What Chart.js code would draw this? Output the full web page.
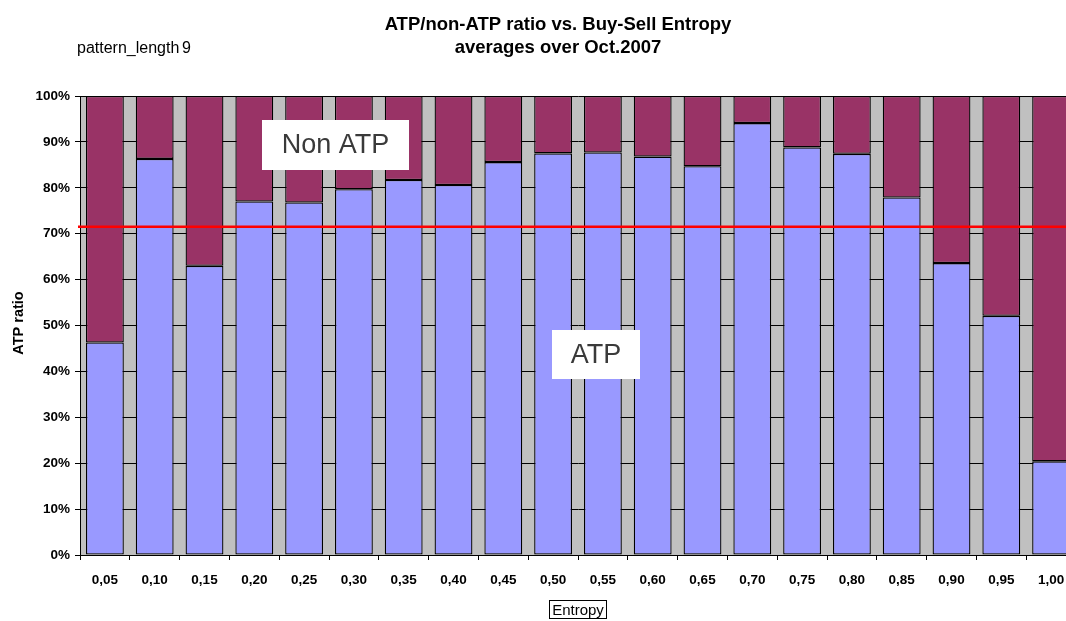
<!DOCTYPE html>
<html>
<head>
<meta charset="utf-8">
<script src="https://cdn.jsdelivr.net/npm/chart.js@4/dist/chart.umd.min.js"></script>
<style>
  html, body { margin: 0; padding: 0; background: #ffffff; overflow: hidden; }
  #wrap { width: 1100px; height: 621px; }
  canvas { display: block; }
</style>
</head>
<body>
<div id="wrap"><canvas id="c" width="1100" height="621"></canvas></div>
<script>
const categories = ['0,05','0,10','0,15','0,20','0,25','0,30','0,35','0,40','0,45','0,50',
                    '0,55','0,60','0,65','0,70','0,75','0,80','0,85','0,90','0,95','1,00'];
const atpPercent = [46.3, 86.3, 63.0, 77.0, 76.8, 79.7, 81.7, 80.6, 85.6, 87.5,
                    87.7, 86.8, 84.7, 94.1, 88.8, 87.4, 77.9, 63.6, 52.1, 20.4];
const nonAtpPercent = [53.7, 13.7, 37.0, 23.0, 23.2, 20.3, 18.3, 19.4, 14.4, 12.5,
                       12.3, 13.2, 15.3, 5.9, 11.2, 12.6, 22.1, 36.4, 47.9, 79.6];
const overallAtpAverage = 71.5;
const yTicks = [0, 10, 20, 30, 40, 50, 60, 70, 80, 90, 100];
const titleLines = ['ATP/non-ATP ratio vs. Buy-Sell Entropy', 'averages over Oct.2007'];
const subtitleText = ['pattern_length', '9'];
const yAxisTitle = 'ATP ratio';
const xAxisTitle = 'Entropy';
const seriesNames = ['ATP', 'Non ATP'];

const FONT = '"Liberation Sans", Arial, sans-serif';

const decorPlugin = {
  id: 'decor',
  beforeDraw(chart) {
    const { ctx, chartArea: a } = chart;
    ctx.save();
    ctx.fillStyle = '#C0C0C0';
    ctx.fillRect(a.left, a.top, a.right - a.left, a.bottom - a.top);
    ctx.restore();
  },
  afterDraw(chart) {
    const { ctx, chartArea: a } = chart;
    const y = chart.scales.y;
    ctx.save();
    // average line
    const py = y.getPixelForValue(overallAtpAverage);
    ctx.strokeStyle = '#FF0000';
    ctx.lineWidth = 2.4;
    ctx.beginPath();
    ctx.moveTo(a.left - 2, py);
    ctx.lineTo(a.right, py);
    ctx.stroke();

    // title
    ctx.fillStyle = '#000';
    ctx.textAlign = 'center';
    ctx.textBaseline = 'alphabetic';
    ctx.font = 'bold 18.5px ' + FONT;
    ctx.fillText(titleLines[0], 558, 29.5);
    ctx.fillText(titleLines[1], 558, 52.5);

    // subtitle
    ctx.textAlign = 'left';
    ctx.font = '16px ' + FONT;
    ctx.fillText(subtitleText[0], 77, 53);
    ctx.fillText(subtitleText[1], 182, 53);

    // y axis title
    ctx.save();
    ctx.translate(23, 323);
    ctx.rotate(-Math.PI / 2);
    ctx.textAlign = 'center';
    ctx.font = 'bold 14.5px ' + FONT;
    ctx.fillText(yAxisTitle, 0, 0);
    ctx.restore();

    // x axis title in a box
    ctx.font = '15px ' + FONT;
    ctx.textAlign = 'center';
    ctx.fillText(xAxisTitle, 578, 615);
    ctx.strokeStyle = '#000';
    ctx.lineWidth = 1;
    ctx.strokeRect(549.5, 600.5, 57, 18);

    // series annotation boxes
    const boxes = [
      { text: seriesNames[1], x: 262, y: 120, w: 147, h: 50 },
      { text: seriesNames[0], x: 552, y: 330, w: 88, h: 49 }
    ];
    boxes.forEach(b => {
      ctx.fillStyle = '#FFFFFF';
      ctx.fillRect(b.x, b.y, b.w, b.h);
      ctx.fillStyle = '#3a3a3a';
      ctx.font = '27px ' + FONT;
      ctx.textAlign = 'center';
      ctx.textBaseline = 'middle';
      ctx.fillText(b.text, b.x + b.w / 2, b.y + b.h / 2 + 1);
    });
    ctx.restore();
  }
};

new Chart(document.getElementById('c'), {
  type: 'bar',
  data: {
    labels: categories,
    datasets: [
      {
        label: seriesNames[0],
        data: atpPercent,
        backgroundColor: '#9999FF',
        borderColor: '#000000',
        borderWidth: 1.3,
        borderSkipped: false,
        barPercentage: 0.76,
        categoryPercentage: 1.0
      },
      {
        label: seriesNames[1],
        data: nonAtpPercent,
        backgroundColor: '#993366',
        borderColor: '#000000',
        borderWidth: 1.3,
        borderSkipped: false,
        barPercentage: 0.76,
        categoryPercentage: 1.0
      }
    ]
  },
  options: {
    responsive: false,
    animation: false,
    devicePixelRatio: 1,
    layout: { padding: { top: 96, right: 24, bottom: 0, left: 0 } },
    plugins: {
      legend: { display: false },
      title: { display: false },
      tooltip: { enabled: false }
    },
    scales: {
      x: {
        stacked: true,
        offset: true,
        grid: {
          display: true,
          offset: true,
          drawOnChartArea: false,
          drawTicks: true,
          tickLength: 5,
          color: '#000000'
        },
        border: { display: true, color: '#000000', width: 1 },
        ticks: {
          color: '#000000',
          font: { family: FONT, size: 13.5, weight: 'bold' },
          padding: 12,
          maxRotation: 0,
          autoSkip: false
        },
        afterFit(scale) { scale.height = 66; }
      },
      y: {
        stacked: true,
        min: 0,
        max: 100,
        afterBuildTicks(scale) { scale.ticks = yTicks.map(v => ({ value: v })); },
        grid: {
          display: true,
          drawOnChartArea: true,
          drawTicks: true,
          tickLength: 5,
          color: '#000000',
          lineWidth: 1
        },
        border: { display: true, color: '#000000', width: 1 },
        ticks: {
          color: '#000000',
          font: { family: FONT, size: 13.5, weight: 'bold' },
          padding: 5,
          callback: v => v + '%'
        },
        afterFit(scale) { scale.width = 80; }
      }
    }
  },
  plugins: [decorPlugin]
});
</script>
</body>
</html>
